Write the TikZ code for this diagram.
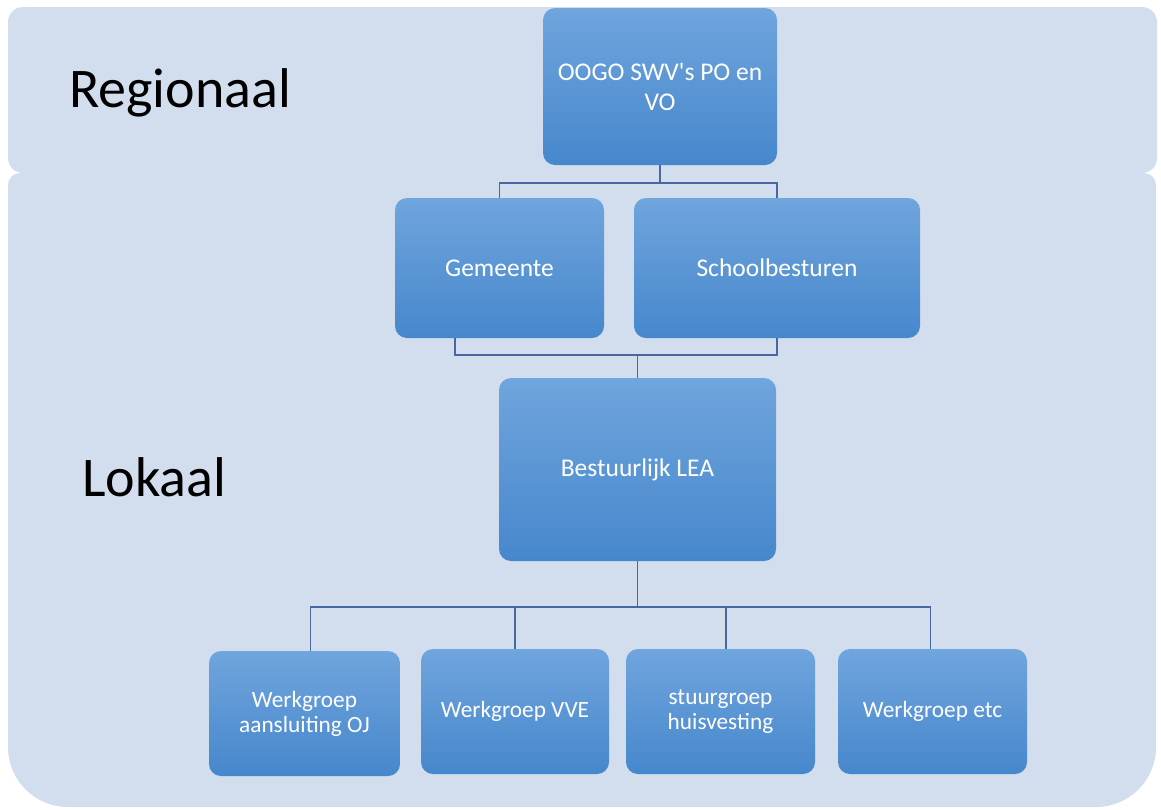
\documentclass[tikz,border=0pt]{standalone}
\usepackage{fontspec}
\setmainfont{Carlito}[Ligatures=TeXOff]
\definecolor{bgc}{RGB}{210,221,238}
\definecolor{boxtop}{RGB}{112,165,221}
\definecolor{boxbot}{RGB}{70,135,204}
\definecolor{linec}{RGB}{72,102,160}
\tikzset{
  orgbox/.style={rectangle, rounded corners=12pt, top color=boxtop, bottom color=boxbot,
    draw=none, text=white, align=center, inner sep=4pt},
  upper/.style={orgbox, font=\fontsize{25.5}{30}\selectfont},
  lower/.style={orgbox, font=\fontsize{23.3}{25}\selectfont},
  level/.style={font=\fontsize{56}{60}\selectfont, text=black, inner sep=0pt},
  conn/.style={draw=linec, line width=1.3pt}
}
\begin{document}
\begin{tikzpicture}[x=1pt,y=-1pt]
\useasboundingbox (0,0) rectangle (1161,809);
% background panels
\fill[bgc, rounded corners=15pt] (8,7) rectangle (1157,173);
\fill[bgc] (8,490) [rounded corners=12pt] -- (8,173) -- (1156,173) [rounded corners=0pt] -- (1156,490) [rounded corners=60pt] -- (1156,807) -- (8,807) [rounded corners=0pt] -- cycle;
% level labels
\node[level, anchor=west] (reg) at (69,93) {Regionaal};
\node[level, anchor=west] (lok) at (82,477) {Lokaal};
% boxes
\node[upper, minimum width=234pt, minimum height=157pt] (oogo) at (660,86.5) {OOGO SWV's PO en\\VO};
\node[upper, minimum width=209pt, minimum height=140pt] (gem) at (499.5,268) {Gemeente};
\node[upper, minimum width=286pt, minimum height=140pt] (sch) at (777,268) {Schoolbesturen};
\node[upper, minimum width=277pt, minimum height=183pt] (lea) at (637.5,469.5) {Bestuurlijk LEA};
\node[lower, minimum width=191pt, minimum height=125pt] (w1) at (304.5,713.5) {Werkgroep\\aansluiting OJ};
\node[lower, minimum width=188pt, minimum height=125pt] (w2) at (515,711.5) {Werkgroep VVE};
\node[lower, minimum width=189pt, minimum height=125pt] (w3) at (720.5,711.5) {stuurgroep\\huisvesting};
\node[lower, minimum width=189pt, minimum height=125pt] (w4) at (932.5,711.5) {Werkgroep etc};
% connectors
\coordinate (b1) at (660,183);
\draw[conn] (oogo.south) -- (b1);
\draw[conn] (b1) -| (gem.north);
\draw[conn] (b1) -| (sch.north);
\coordinate (gs) at ([xshift=-44.5pt]gem.south);
\coordinate (b2) at (637.5,355);
\draw[conn] (gs) |- (b2);
\draw[conn] (sch.south) |- (b2);
\draw[conn] (b2) -- (lea.north);
\coordinate (b3) at (637.5,607);
\coordinate (t1) at ([xshift=6pt]w1.north);
\coordinate (t3) at ([xshift=5.5pt]w3.north);
\coordinate (t4) at ([xshift=-2pt]w4.north);
\draw[conn] (lea.south) -- (b3);
\draw[conn] (b3) -| (t1);
\draw[conn] (b3) -| (w2.north);
\draw[conn] (b3) -| (t3);
\draw[conn] (b3) -| (t4);
\end{tikzpicture}
\end{document}
